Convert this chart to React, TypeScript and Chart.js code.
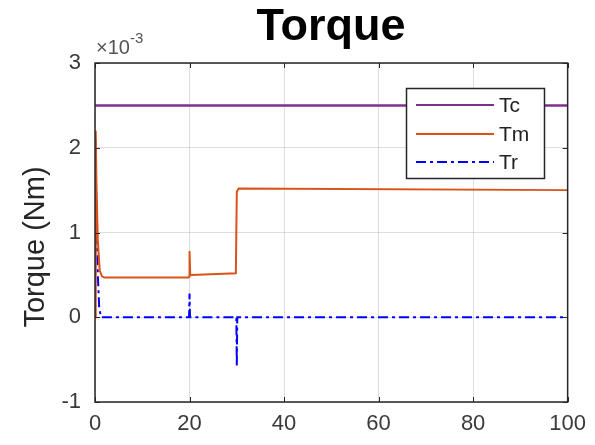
import React, { useEffect, useRef } from "react";
import { Chart, registerables } from "chart.js";

Chart.register(...registerables);

// Values in units of 1e-3 Nm
const TC_T = [0, 100];
const TC_V = [2.5, 2.5];

const TM_T = [0, 0.15, 0.3, 0.6, 1.0, 1.5, 2.0, 19.8, 19.9, 20.0, 20.15, 20.4, 29.8, 30.0, 30.4, 100];
const TM_V = [0, 2.2, 1.6, 0.9, 0.55, 0.48, 0.47, 0.47, 0.48, 0.78, 0.5, 0.5, 0.52, 1.48, 1.52, 1.5];

const TR_T = [0, 0.1, 0.3, 0.6, 0.9, 1.3, 19.9, 20.0, 20.1, 29.9, 30.0, 30.1, 100];
const TR_V = [0, 2.1, 1.2, 0.5, 0.1, 0, 0, 0.28, 0, 0, -0.58, 0, 0];

const X_TICKS = [0, 20, 40, 60, 80, 100];
const Y_TICKS = [-1, 0, 1, 2, 3];

const COLORS = { Tc: "#7E2F8E", Tm: "#D95319", Tr: "#0000FF" };
const FONT = "'Liberation Sans', Arial, sans-serif";
const TEXT = "#3a3a3a";

const toPts = (t: number[], v: number[]) => t.map((x, i) => ({ x, y: v[i] }));

const decor = {
  id: "decor",
  afterDraw(chart: any) {
    const { ctx, chartArea: a, scales } = chart;
    const xs = scales.x, ys = scales.y;
    ctx.save();
    // box
    ctx.strokeStyle = "#262626";
    ctx.lineWidth = 1.5;
    ctx.strokeRect(a.left, a.top, a.right - a.left, a.bottom - a.top);
    // inward ticks
    ctx.lineWidth = 1;
    ctx.beginPath();
    X_TICKS.forEach((t) => {
      const px = Math.round(xs.getPixelForValue(t)) + 0.5;
      ctx.moveTo(px, a.bottom); ctx.lineTo(px, a.bottom - 5);
      ctx.moveTo(px, a.top); ctx.lineTo(px, a.top + 5);
    });
    Y_TICKS.forEach((t) => {
      const py = Math.round(ys.getPixelForValue(t)) + 0.5;
      ctx.moveTo(a.left, py); ctx.lineTo(a.left + 5, py);
      ctx.moveTo(a.right, py); ctx.lineTo(a.right - 5, py);
    });
    ctx.stroke();

    // title
    ctx.fillStyle = "#000";
    ctx.font = `bold 45px ${FONT}`;
    ctx.textAlign = "center";
    ctx.textBaseline = "alphabetic";
    ctx.fillText("Torque", 331, 40);

    // exponent
    ctx.fillStyle = "#555";
    ctx.textAlign = "left";
    ctx.font = `20px ${FONT}`;
    ctx.fillText("×10", 96, 54);
    const w = ctx.measureText("×10").width;
    ctx.font = `15px ${FONT}`;
    ctx.fillText("-3", 96 + w, 43);

    // y label
    ctx.save();
    ctx.translate(44, 247);
    ctx.rotate(-Math.PI / 2);
    ctx.font = `29px ${FONT}`;
    ctx.textAlign = "center";
    ctx.fillStyle = "#262626";
    ctx.fillText("Torque (Nm)", 0, 0);
    ctx.restore();

    // legend
    const lx = 406, ly = 88, lw = 138, lh = 90;
    ctx.fillStyle = "#fff";
    ctx.fillRect(lx, ly, lw, lh);
    ctx.strokeStyle = "#262626";
    ctx.lineWidth = 1.5;
    ctx.strokeRect(lx + 0.5, ly + 0.5, lw, lh);
    const items = [
      { label: "Tc", color: COLORS.Tc, dash: [], y: 105, width: 2 },
      { label: "Tm", color: COLORS.Tm, dash: [], y: 134, width: 2 },
      { label: "Tr", color: COLORS.Tr, dash: [10, 4, 3, 4], y: 162, width: 2 },
    ];
    items.forEach((it) => {
      ctx.strokeStyle = it.color;
      ctx.lineWidth = it.width;
      ctx.setLineDash(it.dash);
      ctx.beginPath();
      ctx.moveTo(416, it.y);
      ctx.lineTo(494, it.y);
      ctx.stroke();
      ctx.setLineDash([]);
      ctx.fillStyle = "#222";
      ctx.font = `21px ${FONT}`;
      ctx.textAlign = "left";
      ctx.textBaseline = "middle";
      ctx.fillText(it.label, 499, it.y + 1);
    });
    ctx.restore();
  },
};

export default function App() {
  const ref = useRef<HTMLCanvasElement>(null);
  useEffect(() => {
    if (!ref.current) return;
    const chart = new Chart(ref.current, {
      type: "line",
      data: {
        datasets: [
          { label: "Tc", data: toPts(TC_T, TC_V), borderColor: COLORS.Tc, borderWidth: 2.5, pointRadius: 0, fill: false },
          { label: "Tm", data: toPts(TM_T, TM_V), borderColor: COLORS.Tm, borderWidth: 2, pointRadius: 0, fill: false },
          { label: "Tr", data: toPts(TR_T, TR_V), borderColor: COLORS.Tr, borderWidth: 2, borderDash: [10, 4, 3, 4], pointRadius: 0, fill: false },
        ],
      },
      options: {
        animation: false,
        responsive: false,
        parsing: false as any,
        layout: { padding: { top: 63, right: 27, left: 0, bottom: 0 } },
        plugins: { legend: { display: false }, title: { display: false }, tooltip: { enabled: false } },
        scales: {
          x: {
            type: "linear",
            min: 0,
            max: 100,
            afterBuildTicks: (s: any) => { s.ticks = X_TICKS.map((v) => ({ value: v })); },
            afterFit: (s: any) => { s.height = 43; },
            grid: { color: "rgba(0,0,0,0.13)", drawTicks: false },
            border: { display: false },
            ticks: { color: TEXT, font: { family: FONT, size: 22 }, padding: 9, maxRotation: 0 },
          },
          y: {
            type: "linear",
            min: -1,
            max: 3,
            afterBuildTicks: (s: any) => { s.ticks = Y_TICKS.map((v) => ({ value: v })); },
            afterFit: (s: any) => { s.width = 95; },
            grid: { color: "rgba(0,0,0,0.13)", drawTicks: false },
            border: { display: false },
            ticks: { color: TEXT, font: { family: FONT, size: 22 }, padding: 14 },
          },
        },
      },
      plugins: [decor],
    });
    return () => chart.destroy();
  }, []);
  return (
    <div style={{ position: "fixed", left: 0, top: 0, width: 595, height: 445, background: "#fff" }}>
      <canvas ref={ref} width={595} height={445} style={{ width: 595, height: 445 }} />
    </div>
  );
}
